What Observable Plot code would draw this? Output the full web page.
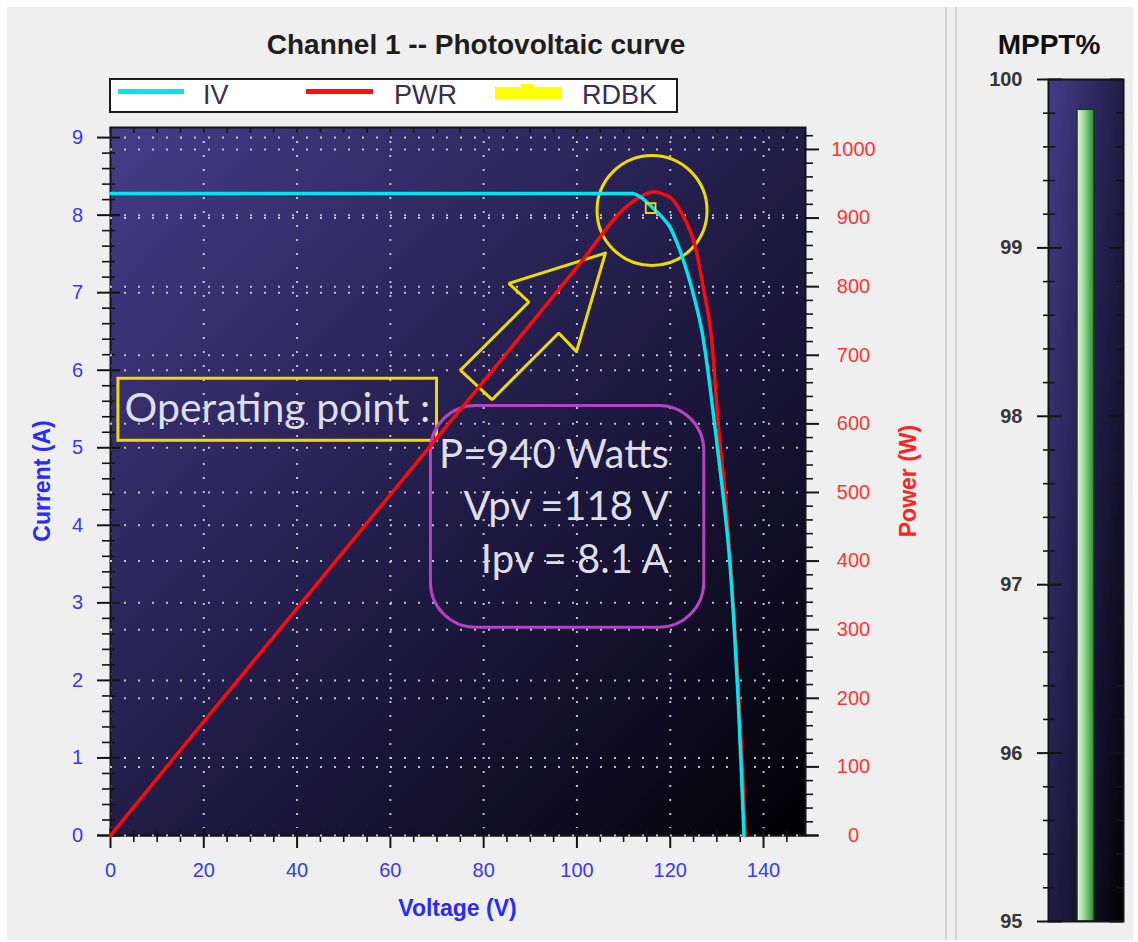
<!DOCTYPE html>
<html>
<head>
<meta charset="utf-8">
<script src="https://cdn.jsdelivr.net/npm/d3@7"></script>
<script src="https://cdn.jsdelivr.net/npm/@observablehq/plot@0.6"></script>
<style>
html,body{margin:0;padding:0;background:#fff;}
#root{position:relative;width:1138px;height:942px;overflow:hidden;background:#fff;font-family:"Liberation Sans",Arial,sans-serif;}
.abs{position:absolute;white-space:nowrap;}
.layer{position:absolute;}
.layer svg{overflow:visible;}
</style>
</head>
<body>
<div id="root">
  <div class="abs" style="left:7px;top:7px;width:1126px;height:933px;background:#efefef"></div>
  <div class="abs" style="left:945px;top:7px;width:2px;height:933px;background:#d3d3d3"></div>
  <div class="abs" style="left:955px;top:7px;width:2px;height:933px;background:#d3d3d3"></div>

  <div class="abs" style="left:0;top:28px;width:952px;text-align:center;font-weight:bold;font-size:28px;line-height:34px;color:#1e1e1e">Channel 1 -- Photovoltaic curve</div>
  <div class="abs" style="left:960px;top:28px;width:178px;text-align:center;font-weight:bold;font-size:28px;line-height:34px;color:#111">MPPT%</div>

  <div class="abs" id="legend" style="left:109px;top:78px;width:569px;height:35px;box-sizing:border-box;border:2px solid #1c1c1c;background:#fff">
    <div class="abs" style="left:7px;top:9px;width:66px;height:5px;background:#00e6f0"></div>
    <div class="abs" style="left:92px;top:0;font-size:27px;line-height:31px;color:#3a2e4e">IV</div>
    <div class="abs" style="left:195px;top:9px;width:67px;height:5px;background:#ff1010"></div>
    <div class="abs" style="left:283px;top:0;font-size:27px;line-height:31px;color:#3a2e4e">PWR</div>
    <div class="abs" style="left:384px;top:7px;width:66px;height:12px;background:#ffff00"></div>
    <div class="abs" style="left:410px;top:4px;width:12px;height:4px;background:#ffff00"></div>
    <div class="abs" style="left:471px;top:0;font-size:27px;line-height:31px;color:#3a2e4e">RDBK</div>
  </div>

  <div class="abs" style="left:0;top:894px;width:915px;text-align:center;font-weight:bold;font-size:23px;line-height:28px;color:#2a2aff">Voltage (V)</div>
  <div class="abs" style="left:42px;top:481px;transform:translate(-50%,-50%) rotate(-90deg);font-weight:bold;font-size:23px;line-height:28px;color:#2a2aff">Current (A)</div>
  <div class="abs" style="left:908px;top:481px;transform:translate(-50%,-50%) rotate(-90deg);font-weight:bold;font-size:23px;line-height:28px;color:#ff2424">Power (W)</div>

  <svg width="0" height="0" style="position:absolute;left:0;top:0">
    <defs>
      <linearGradient id="bgGrad" x1="0" y1="0" x2="1" y2="1">
        <stop offset="0" stop-color="#463c88"/>
        <stop offset="0.5" stop-color="#221c48"/>
        <stop offset="0.82" stop-color="#0e0b20"/>
        <stop offset="1" stop-color="#000000"/>
      </linearGradient>
      <linearGradient id="greenGrad" x1="0" y1="0" x2="1" y2="0">
        <stop offset="0" stop-color="#e2f5de"/>
        <stop offset="0.3" stop-color="#b6e2ae"/>
        <stop offset="0.65" stop-color="#68bd66"/>
        <stop offset="1" stop-color="#2c8a32"/>
      </linearGradient>
    </defs>
  </svg>

  <div class="layer" id="plotA" style="left:0;top:118px"></div>
  <div class="layer" id="plotB" style="left:0;top:118px"></div>
  <div class="layer" id="plotC" style="left:0;top:118px"></div>
  <div class="layer" id="plotM" style="left:960px;top:70px"></div>
</div>

<script>
// ---------------- DATA ----------------
const voltageIV = [0, 111.9, 113.7, 115.8, 118, 120.1, 121.8, 123.7, 125.3, 126.9, 128.5, 130.2, 131.5, 132.7, 133.7, 134.5, 135.2, 135.8];
const currentIV = [8.28, 8.28, 8.23, 8.12, 7.99, 7.83, 7.59, 7.25, 6.9, 6.47, 5.8, 4.96, 4.3, 3.58, 2.7, 1.83, 0.9, 0];

const voltagePWR = [0, 20, 40, 60, 80, 100, 111, 113.1, 115, 116.9, 118.5, 120.1, 121.7, 123.3, 125.4, 127.1, 128.9, 130.4, 131.9, 133, 134.4, 135.3, 136.1];
const powerPWR   = [0, 166, 331, 497, 662, 828, 919, 929, 936, 938, 935, 930, 916, 896, 858, 798, 722, 590, 489, 390, 240, 125, 0];

const rdbkVoltage = [115.8];
const rdbkCurrent = [8.09];

const mpptNames = ["MPPT%"];
const mpptValues = [99.82];

const voltageTicks = [0, 20, 40, 60, 80, 100, 120, 140];
const currentTicks = [0, 1, 2, 3, 4, 5, 6, 7, 8, 9];
const powerTicks = [0, 100, 200, 300, 400, 500, 600, 700, 800, 900, 1000];
const mpptTicks = [95, 96, 97, 98, 99, 100];

// annotation texts and anchors (data units)
const opLabel = ["Operating point :"];
const opValues = ["P=940 Watts", "Vpv =118 V", "Ipv = 8.1 A"];
const opValueCurrent = [4.90, 4.23, 3.55];
const arrowVoltage = [106.1, 85.4, 89.7, 75.0, 81.8, 96.1, 99.9, 106.1];
const arrowCurrent = [7.51, 7.12, 6.88, 6.00, 5.62, 6.48, 6.24, 7.51];

// ---------------- TABLES ----------------
const ivTable = voltageIV.map((v, i) => ({v, i: currentIV[i]}));
const pwrTable = voltagePWR.map((v, i) => ({v, p: powerPWR[i]}));
const rdbkTable = rdbkVoltage.map((v, k) => ({v, i: rdbkCurrent[k]}));
const mpptTable = mpptNames.map((name, k) => ({name, value: mpptValues[k]}));
const arrowTable = arrowVoltage.map((v, k) => ({v, i: arrowCurrent[k]}));
const opValueTable = opValues.map((t, k) => ({t, i: opValueCurrent[k]}));

const voltageMinor = d3.range(0, 149, 5).filter(d => d % 20 !== 0);
const currentMinor = d3.range(1, 46).map(k => k / 5).filter(d => Math.abs(d - Math.round(d)) > 1e-6);
const powerMinor = d3.range(20, 1031, 20).filter(d => d % 100 !== 0);
const mpptMinor = d3.range(1, 25).map(k => 95 + k / 5).filter(d => Math.abs(d - Math.round(d)) > 1e-6);

// ---------------- LAYOUT ----------------
const L = {width: 940, height: 824, marginLeft: 110, marginRight: 135, marginTop: 9, marginBottom: 107};
const FW = L.width - L.marginLeft - L.marginRight;   // 695
const FH = L.height - L.marginTop - L.marginBottom;  // 708
const xDom = [0, 149], iDom = [0, 9.13], pDom = [0, 1032];
const BLUE = "#3838f8", RED = "#ff3535", TICK = "#141414";
const YEL = "#ecdc00", PURP = "#b444c4", TXT = "#dedee8";
const fmt = d => String(d);
const gridStyle = {stroke: "#d2d2dc", strokeOpacity: 0.9, strokeWidth: 2, strokeDasharray: "2,12"};
const baseStyle = {fontFamily: "'Liberation Sans', Arial, sans-serif", fontSize: "20px", background: "none", overflow: "visible"};

const plotA = Plot.plot({
  ...L,
  x: {domain: xDom, axis: null},
  y: {domain: iDom, axis: null},
  style: baseStyle,
  marks: [
    Plot.frame({fill: "#000"}),
    Plot.gridX({ticks: voltageTicks, ...gridStyle}),
    Plot.gridY({ticks: currentTicks, ...gridStyle}),
    // annotations
    Plot.rect([{x1: 1.7, x2: 70.0, y1: 5.09, y2: 5.89}], {x1: "x1", x2: "x2", y1: "y1", y2: "y2", fill: "none", stroke: YEL, strokeWidth: 3}),
    Plot.text(opLabel, {x: 3.0, y: 5.50, text: d => d, textAnchor: "start", fontFamily: "Lato, 'Open Sans', sans-serif", fontSize: 41, fill: TXT}),
    Plot.rect([{x1: 68.7, x2: 127.3, y1: 2.68, y2: 5.54}], {x1: "x1", x2: "x2", y1: "y1", y2: "y2", fill: "none", stroke: PURP, strokeWidth: 3, rx: 45}),
    Plot.text(opValueTable, {x: 119.7, y: "i", text: "t", textAnchor: "end", fontFamily: "Lato, 'Open Sans', sans-serif", fontSize: 40, fill: TXT}),
    Plot.line(arrowTable, {x: "v", y: "i", stroke: YEL, strokeWidth: 3, strokeLinejoin: "miter"}),
    Plot.dot([{v: 116.1, i: 8.06}], {x: "v", y: "i", r: 55, fill: "none", stroke: YEL, strokeWidth: 3}),
    // ticks
    Plot.ruleY(currentTicks, {y: d => d, insetLeft: -13, insetRight: FW - 10, stroke: TICK, strokeWidth: 2}),
    Plot.ruleY(currentMinor, {y: d => d, insetLeft: -8, insetRight: FW - 5, stroke: TICK, strokeWidth: 1.6}),
    Plot.ruleX(voltageTicks, {x: d => d, insetTop: FH - 7, insetBottom: -13, stroke: TICK, strokeWidth: 2}),
    Plot.ruleX(voltageMinor, {x: d => d, insetTop: FH - 5, insetBottom: -7, stroke: TICK, strokeWidth: 1.6}),
    Plot.ruleX(voltageTicks.concat(voltageMinor), {x: d => d, insetTop: 0, insetBottom: FH - 6, stroke: TICK, strokeWidth: 1.6}),
    Plot.frame({stroke: TICK, strokeWidth: 2}),
    Plot.ruleY([0], {y: d => d, insetLeft: -13, insetRight: -13, stroke: TICK, strokeWidth: 2}),
    // axis labels
    Plot.axisX({ticks: voltageTicks, tickFormat: fmt, anchor: "bottom", tickSize: 0, tickPadding: 27, fontSize: 20, fill: BLUE, label: null}),
    Plot.axisY({ticks: currentTicks, tickFormat: fmt, anchor: "left", tickSize: 0, tickPadding: 33, textAnchor: "middle", fontSize: 20, fill: BLUE, label: null})
  ]
});

const plotB = Plot.plot({
  ...L,
  x: {domain: xDom, axis: null},
  y: {domain: pDom, axis: null},
  style: baseStyle,
  marks: [
    Plot.gridY({ticks: powerTicks, ...gridStyle}),
    Plot.line(pwrTable, {x: "v", y: "p", stroke: "#ff0a0a", strokeWidth: 3.5, curve: "monotone-x"}),
    Plot.ruleY(powerTicks, {y: d => d, insetLeft: FW, insetRight: -14, stroke: TICK, strokeWidth: 2}),
    Plot.ruleY(powerMinor, {y: d => d, insetLeft: FW, insetRight: -8, stroke: TICK, strokeWidth: 1.6}),
    Plot.axisY({ticks: powerTicks, tickFormat: fmt, anchor: "right", tickSize: 0, tickPadding: 48, textAnchor: "middle", fontSize: 20, fill: RED, label: null})
  ]
});

const plotC = Plot.plot({
  ...L,
  x: {domain: xDom, axis: null},
  y: {domain: iDom, axis: null},
  style: baseStyle,
  marks: [
    Plot.line(ivTable, {x: "v", y: "i", stroke: "#00e4ee", strokeWidth: 3.5, curve: "monotone-x"}),
    Plot.dot(rdbkTable, {x: "v", y: "i", symbol: "square", r: 5.5, fill: "none", stroke: YEL, strokeWidth: 1.8})
  ]
});

const MW = 75;
const plotM = Plot.plot({
  width: 178, height: 872, marginLeft: 88, marginRight: 15, marginTop: 9, marginBottom: 21,
  x: {type: "band", domain: mpptNames, padding: 0.63, axis: null},
  y: {domain: [95, 100], axis: null},
  style: {...baseStyle, fontWeight: "bold"},
  marks: [
    Plot.frame({fill: "#000"}),
    Plot.barY(mpptTable, {x: "name", y1: 95, y2: "value", fill: "#6c6", stroke: "#173a17", strokeWidth: 1.5}),
    Plot.ruleY(mpptTicks, {y: d => d, insetLeft: -11, insetRight: MW - 14, stroke: TICK, strokeWidth: 2}),
    Plot.ruleY(mpptMinor, {y: d => d, insetLeft: -5, insetRight: MW - 7, stroke: TICK, strokeWidth: 1.6}),
    Plot.ruleY(mpptTicks, {y: d => d, insetLeft: MW - 13, insetRight: 0, stroke: TICK, strokeWidth: 2}),
    Plot.ruleY(mpptMinor, {y: d => d, insetLeft: MW - 7, insetRight: 0, stroke: TICK, strokeWidth: 1.6}),
    Plot.frame({stroke: TICK, strokeWidth: 2}),
    Plot.axisY({ticks: mpptTicks, tickFormat: fmt, anchor: "left", tickSize: 0, tickPadding: 26, textAnchor: "end", fontSize: 20, fill: "#363636", label: null})
  ]
});

function fillFrame(svg, url) {
  const f = svg.querySelector('[aria-label="frame"]');
  if (!f) return;
  const r = f.tagName.toLowerCase() === "rect" ? f : f.querySelector("rect");
  if (r) r.setAttribute("fill", url);
}
fillFrame(plotA, "url(#bgGrad)");
fillFrame(plotM, "url(#bgGrad)");
plotM.querySelectorAll('[aria-label="bar"] rect').forEach(r => r.setAttribute("fill", "url(#greenGrad)"));

document.getElementById("plotA").appendChild(plotA);
document.getElementById("plotB").appendChild(plotB);
document.getElementById("plotC").appendChild(plotC);
document.getElementById("plotM").appendChild(plotM);
</script>
</body>
</html>
